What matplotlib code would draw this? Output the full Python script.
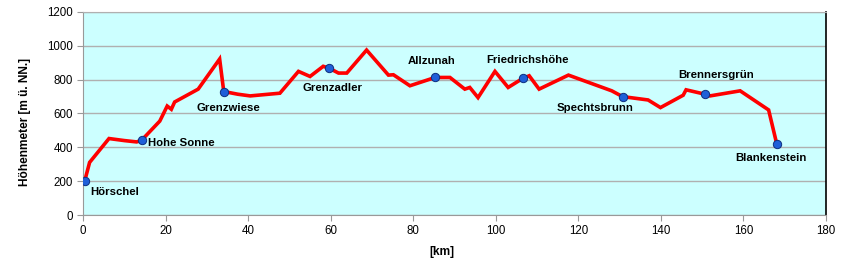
import matplotlib
matplotlib.use("Agg")
import matplotlib.pyplot as plt

# height profile: distance [km] and altitude [m]
km = [0.4, 1.6, 6.3, 10, 13, 14.2, 18.6, 20.4, 21.4, 22.2, 27.9, 33.1, 34.1, 37.5,
      40.5, 47.7, 52.2, 55, 58.2, 59.7, 61.9, 63.9, 68.7, 74, 75.2, 79.2, 85.3, 88.9,
      92.5, 93.7, 95.7, 99.8, 103, 106.5, 108.1, 110.5, 117.6, 128.1, 130.7, 136.9,
      139.9, 145.4, 146.1, 150.7, 151.9, 159.2, 166.1, 168.1]
hoehe = [200, 311, 452, 440, 432, 442, 555, 644, 625, 668, 744, 922, 730, 714,
         704, 720, 849, 819, 879, 867, 839, 839, 975, 827, 829, 764, 813, 813,
         744, 754, 694, 849, 754, 807, 823, 744, 827, 734, 700, 680,
         635, 708, 740, 714, 704, 734, 621, 417]

# waypoints
orte = ["Hörschel", "Hohe Sonne", "Grenzwiese", "Grenzadler", "Allzunah",
        "Friedrichshöhe", "Spechtsbrunn", "Brennersgrün", "Blankenstein"]
orte_km = [0.4, 14.2, 34.1, 59.7, 85.3, 106.5, 130.7, 150.7, 168.1]
orte_hoehe = [200, 442, 730, 867, 813, 807, 700, 714, 417]

# label offsets in pixels (dx, dy)
offsets = [(6, -11), (6, -3), (-27, -16), (-27, -20), (-27, 16),
           (-36, 18), (-66, -11), (-27, 19), (-42, -14)]

fig = plt.figure(figsize=(8.54, 2.66), dpi=100)
ax = fig.add_axes([83/854, 1-215/266, 743/854, 203/266])
ax.set_facecolor("#ccffff")

ax.plot(km, hoehe, color="#ff0000", lw=2.6, solid_joinstyle="miter", zorder=3)
ax.plot(orte_km, orte_hoehe, "o", ms=6, color="#1f5fd8", mec="#0d2f80", mew=0.7, zorder=4)

for name, x, y, off in zip(orte, orte_km, orte_hoehe, offsets):
    ax.annotate(name, (x, y), xytext=off, textcoords="offset pixels",
                fontsize=8.2, fontweight="bold", family="Liberation Sans",
                ha="left", va="center", zorder=5)

ax.set_xlim(0, 180)
ax.set_ylim(0, 1200)
ax.set_xticks(range(0, 181, 20))
ax.set_yticks(range(0, 1201, 200))
ax.grid(axis="y", color="#b0b0b0", lw=1)
ax.set_axisbelow(True)
ax.spines["left"].set_color("#999999")
ax.spines["bottom"].set_color("#999999")
ax.spines["top"].set_color("#b0b0b0")
ax.spines["right"].set_color("black")
ax.spines["right"].set_linewidth(1.2)
ax.tick_params(length=4, color="#999999", labelsize=8.3, pad=3)
for lab in ax.get_xticklabels() + ax.get_yticklabels():
    lab.set_family("Liberation Sans")

fig.text(25/854, 1-122/266, "Höhenmeter [m ü. NN.]", rotation=90, ha="center", va="center",
         fontsize=8.6, fontweight="bold", family="Liberation Sans")
fig.text(442/854, 1-252/266, "[km]", ha="center", va="center",
         fontsize=8.6, fontweight="bold", family="Liberation Sans")

fig.savefig("out.png", dpi=100, facecolor="white")
